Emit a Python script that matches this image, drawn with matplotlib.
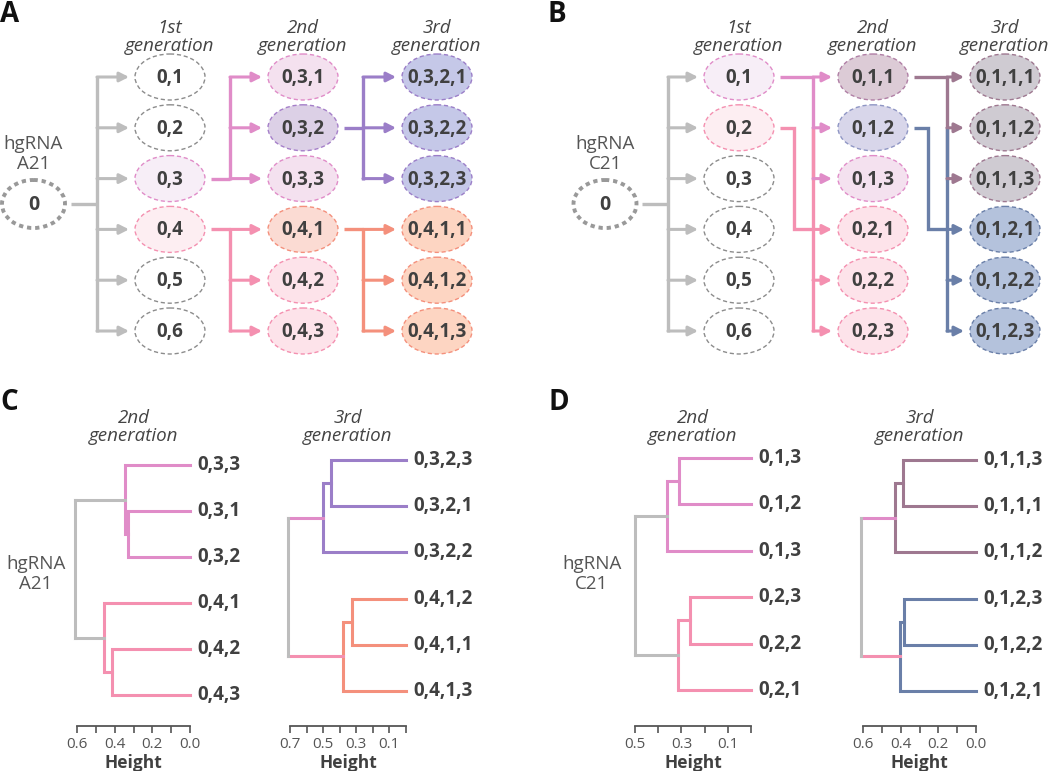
import numpy as np
import matplotlib
matplotlib.use("Agg")
import matplotlib.pyplot as plt
from matplotlib.patches import Ellipse

plt.rcParams['font.family'] = ['Open Sans', 'DejaVu Sans']

W, H = 1050, 771
TXT = '#404040'
GRAY_LINE = '#bdbdbd'
GRAY_EDGE = '#8c8c8c'
MAG = '#e08cc8'
PINK = '#f490b0'
PURPLE = '#9b7ec8'
SALMON = '#f4907c'
MAUVE = '#9e7890'
SLATE = '#6a7fa8'

# ---------------- panels A and B: lineage trees ----------------
a_root = "hgRNA\nA21"
a_gen1 = ["0,1", "0,2", "0,3", "0,4", "0,5", "0,6"]
a_gen2 = ["0,3,1", "0,3,2", "0,3,3", "0,4,1", "0,4,2", "0,4,3"]
a_gen3 = ["0,3,2,1", "0,3,2,2", "0,3,2,3", "0,4,1,1", "0,4,1,2", "0,4,1,3"]
a_fill = [["white", "white", "#f7eef7", "#fdeef2", "white", "white"],
          ["#f4e1ef", "#dcd0e6", "#f4e1ef", "#fbdbd3", "#fde3ea", "#fde3ea"],
          ["#c5c8e8", "#c5c8e8", "#c5c8e8", "#fdd5c2", "#fdd5c2", "#fdd5c2"]]
a_edge = [[GRAY_EDGE, GRAY_EDGE, MAG, PINK, GRAY_EDGE, GRAY_EDGE],
          [MAG, "#a57fc9", MAG, SALMON, PINK, PINK],
          [PURPLE, PURPLE, PURPLE, SALMON, SALMON, SALMON]]
# (parent generation, parent row, first child row, colour)
a_links = [(1, 2, 0, MAG), (1, 3, 3, PINK), (2, 1, 0, PURPLE), (2, 3, 3, SALMON)]

b_root = "hgRNA\nC21"
b_gen1 = ["0,1", "0,2", "0,3", "0,4", "0,5", "0,6"]
b_gen2 = ["0,1,1", "0,1,2", "0,1,3", "0,2,1", "0,2,2", "0,2,3"]
b_gen3 = ["0,1,1,1", "0,1,1,2", "0,1,1,3", "0,1,2,1", "0,1,2,2", "0,1,2,3"]
b_fill = [["#f7eef7", "#fdeef2", "white", "white", "white", "white"],
          ["#dccbd6", "#d8d6ea", "#f4e1ef", "#fde3ea", "#fde3ea", "#fde3ea"],
          ["#cfcbd2", "#cfcbd2", "#cfcbd2", "#b4c2dc", "#b4c2dc", "#b4c2dc"]]
b_edge = [[MAG, PINK, GRAY_EDGE, GRAY_EDGE, GRAY_EDGE, GRAY_EDGE],
          ["#b07fa5", "#8f96c4", MAG, PINK, PINK, PINK],
          [MAUVE, MAUVE, MAUVE, SLATE, SLATE, SLATE]]
b_links = [(1, 0, 0, MAG), (1, 1, 3, PINK), (2, 0, 0, MAUVE), (2, 1, 3, SLATE)]

gen_titles = ["1st\ngeneration", "2nd\ngeneration", "3rd\ngeneration"]

# ---------------- panels C and D: dendrograms (node = (upper, lower, height)) ----------------
c2_tree = (("0,3,3", ("0,3,1", "0,3,2", 0.33), 0.346),
           ("0,4,1", ("0,4,2", "0,4,3", 0.416), 0.456), 0.61)
c3_tree = ((("0,3,2,3", "0,3,2,1", 0.45), "0,3,2,2", 0.50),
           (("0,4,1,2", "0,4,1,1", 0.325), "0,4,1,3", 0.38), 0.71)
d2_tree = ((("0,1,3", "0,1,2", 0.31), "0,1,3", 0.361),
           (("0,2,3", "0,2,2", 0.265), "0,2,1", 0.315), 0.502)
d3_tree = ((("0,1,1,3", "0,1,1,1", 0.385), "0,1,1,2", 0.43),
           (("0,1,2,3", "0,1,2,2", 0.381), "0,1,2,1", 0.406), 0.61)

fig = plt.figure(figsize=(W / 100, H / 100), dpi=100)
bg = fig.add_axes([0, 0, 1, 1])
bg.set_xlim(0, W)
bg.set_ylim(H, 0)
bg.axis('off')

ROW0, ROWSTEP = 77, 50.8
EW, EH = 70, 46


def arrow(x0, x1, y, c):
    bg.annotate("", xy=(x1, y), xytext=(x0, y),
                arrowprops=dict(arrowstyle="-|>,head_length=0.55,head_width=0.28", color=c,
                                lw=2.2, shrinkA=0, shrinkB=0, mutation_scale=10))


def line(xs, ys, c):
    bg.plot(xs, ys, color=c, lw=2.4, solid_capstyle='butt', solid_joinstyle='miter')


def lineage(root_lbl, gens, fills, edges, links, root_x, bus0, cols, off, jog):
    rows = [ROW0 + ROWSTEP * i for i in range(6)]
    ymid = (rows[2] + rows[3]) / 2
    # root
    bg.add_patch(Ellipse((root_x, ymid), 63, 48, facecolor='white', edgecolor='#999999',
                         lw=2.8, linestyle=(0, (1.1, 1.0))))
    bg.text(root_x, ymid + 1, "0", ha='center', va='center', fontsize=14, fontweight='bold', color=TXT)
    bg.text(root_x, 154, root_lbl, ha='center', va='center', fontsize=13.5, color='#555555',
            linespacing=1.1)
    line([root_x + 37, bus0], [ymid, ymid], GRAY_LINE)
    line([bus0, bus0], [rows[0] - 1, rows[5] + 1], GRAY_LINE)
    for y in rows:
        arrow(bus0, cols[0] - EW / 2 - 6, y, GRAY_LINE)
    # ellipses
    for g, (labels, fc, ec) in enumerate(zip(gens, fills, edges)):
        bg.text(cols[g], 37, gen_titles[g], ha='center', va='center', fontsize=13.5, style='italic',
                color='#444444', linespacing=1.0)
        for i, lbl in enumerate(labels):
            bg.add_patch(Ellipse((cols[g], rows[i]), EW, EH, facecolor=fc[i], edgecolor=ec[i],
                                 lw=1.0, linestyle=(0, (3, 2))))
            bg.text(cols[g], rows[i] + 1, lbl, ha='center', va='center', fontsize=13.5,
                    fontweight='bold', color=TXT)
    # branches
    for pg, prow, crow, c in links:
        px = cols[pg - 1] + EW / 2 + 6
        py = rows[prow]
        bus = cols[pg - 1] + off
        cys = [rows[crow + k] for k in range(3)]
        if crow <= prow <= crow + 2:
            line([px, bus], [py, py], c)
        else:
            jx = cols[pg - 1] + jog
            line([px, jx, jx, bus], [py, py, cys[0], cys[0]], c)
        line([bus, bus], [min(cys + [py]) - 1, max(cys + [py]) + 1], c)
        for y in cys:
            arrow(bus, cols[pg] - EW / 2 - 6, y, c)


lineage(a_root, [a_gen1, a_gen2, a_gen3], a_fill, a_edge, a_links,
        33.5, 97, [170, 303, 437], 60, None)
lineage(b_root, [b_gen1, b_gen2, b_gen3], b_fill, b_edge, b_links,
        605, 668, [739, 873, 1005], 74, 55)


def draw_node(ax, node, color, pos):
    if isinstance(node, str):
        y = pos[0]
        pos[0] += 1
        ax.annotate(node, (0, y), xytext=(5, 0), textcoords='offset points', ha='left', va='center',
                    fontsize=13.5, fontweight='bold', color=TXT, annotation_clip=False)
        return y, 0.0
    up, lo, h = node
    yu, hu = draw_node(ax, up, color, pos)
    yl, hl = draw_node(ax, lo, color, pos)
    ax.plot([hu, h, h, hl], [yu, yu, yl, yl], color=color, lw=2.2, clip_on=False,
            solid_joinstyle='miter')
    return (yu + yl) / 2, h


def dendro(tree, hmax, x0, x1, leaf0, step, colors, stems, title):
    axis_y = 726
    top = leaf0 - 12
    ax = fig.add_axes([x0 / W, 1 - axis_y / H, (x1 - x0) / W, (axis_y - top) / H])
    ax.patch.set_alpha(0)
    ax.set_xlim(hmax, 0)
    ax.set_ylim(5 + (axis_y - leaf0 - 5 * step) / step, -(leaf0 - top) / step)
    up, lo, h0 = tree
    pos = [0]
    yu, hu = draw_node(ax, up, colors[0], pos)
    yl, hl = draw_node(ax, lo, colors[1], pos)
    ax.plot([hu, h0], [yu, yu], color=stems[0], lw=2.2, clip_on=False)
    ax.plot([hl, h0], [yl, yl], color=stems[1], lw=2.2, clip_on=False)
    ax.plot([h0, h0], [yu, yl], color=GRAY_LINE, lw=2.2, clip_on=False, solid_capstyle='projecting')
    for s in ['top', 'right', 'left']:
        ax.spines[s].set_visible(False)
    ax.spines['bottom'].set_bounds(hmax, 0)
    ax.spines['bottom'].set_color('#555555')
    ax.spines['bottom'].set_linewidth(1.3)
    n = int(round(hmax * 10))
    ticks = [k / 10 for k in range(n, -1, -1)]
    ax.set_xticks(ticks)
    ax.set_xticklabels([f"{t:.1f}" if (n - int(round(t * 10))) % 2 == 0 else "" for t in ticks])
    ax.set_yticks([])
    ax.tick_params(axis='x', direction='out', length=5, width=1.2, color='#555555',
                   labelsize=11, labelcolor='#555555', pad=3)
    ax.set_xlabel("Height", fontsize=12.5, fontweight='bold', color=TXT, labelpad=1)
    bg.text((x0 + x1) / 2 + 0, 427, title, ha='center', va='center', fontsize=13.5, style='italic',
            color='#444444', linespacing=1.0)
    return ax


dendro(c2_tree, 0.6, 77, 190, 465, 46, [MAG, PINK], [GRAY_LINE, GRAY_LINE], gen_titles[1])
dendro(c3_tree, 0.7, 290, 406, 460, 46.2, [PURPLE, SALMON], [MAG, PINK], gen_titles[2])
dendro(d2_tree, 0.5, 635, 751, 458, 46.4, [MAG, PINK], [GRAY_LINE, GRAY_LINE], gen_titles[1])
dendro(d3_tree, 0.6, 863, 976, 460, 46.2, [MAUVE, SLATE], [MAG, PINK], gen_titles[2])

bg.text(36, 574, a_root, ha='center', va='center', fontsize=13.5, color='#555555', linespacing=1.1)
bg.text(592, 574, b_root, ha='center', va='center', fontsize=13.5, color='#555555', linespacing=1.1)

for lbl, x, y in [("A", 10, 14), ("B", 557, 14), ("C", 9, 403), ("D", 559, 403)]:
    bg.text(x, y, lbl, ha='center', va='center', fontsize=20, fontweight='bold', color='#111111')

fig.savefig("out.png", dpi=100)
